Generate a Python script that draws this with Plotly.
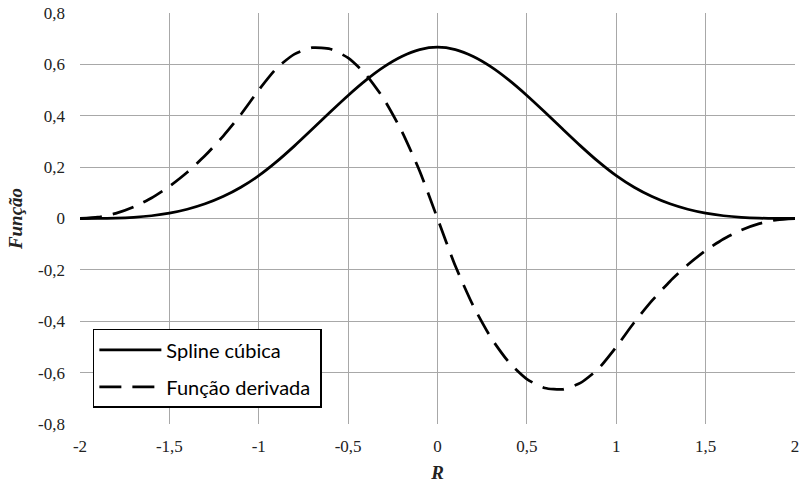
import plotly.graph_objects as go

# Abscissa R
r_values = [-2.0, -1.9, -1.8, -1.7, -1.6, -1.5, -1.4, -1.3, -1.2, -1.1,
            -1.0, -0.9, -0.8, -0.7, -0.6, -0.5, -0.4, -0.3, -0.2, -0.1,
            0.0, 0.1, 0.2, 0.3, 0.4, 0.5, 0.6, 0.7, 0.8, 0.9,
            1.0, 1.1, 1.2, 1.3, 1.4, 1.5, 1.6, 1.7, 1.8, 1.9, 2.0]

# Cubic spline kernel
spline_cubica = [0.0, 0.0002, 0.0013, 0.0045, 0.0107, 0.0208, 0.036, 0.0572, 0.0853, 0.1215,
                 0.1667, 0.2212, 0.2827, 0.3482, 0.4147, 0.4792, 0.5387, 0.5902, 0.6307, 0.6572,
                 0.6667, 0.6572, 0.6307, 0.5902, 0.5387, 0.4792, 0.4147, 0.3482, 0.2827, 0.2212,
                 0.1667, 0.1215, 0.0853, 0.0572, 0.036, 0.0208, 0.0107, 0.0045, 0.0013, 0.0002, 0.0]

# Its derivative
funcao_derivada = [0.0, 0.005, 0.02, 0.045, 0.08, 0.125, 0.18, 0.245, 0.32, 0.405,
                   0.5, 0.585, 0.64, 0.665, 0.66, 0.625, 0.56, 0.465, 0.34, 0.185,
                   0.0, -0.185, -0.34, -0.465, -0.56, -0.625, -0.66, -0.665, -0.64, -0.585,
                   -0.5, -0.405, -0.32, -0.245, -0.18, -0.125, -0.08, -0.045, -0.02, -0.005, 0.0]

x_ticks = [-2, -1.5, -1, -0.5, 0, 0.5, 1, 1.5, 2]
x_tick_text = ["-2", "-1,5", "-1", "-0,5", "0", "0,5", "1", "1,5", "2"]
y_ticks = [-0.8, -0.6, -0.4, -0.2, 0, 0.2, 0.4, 0.6, 0.8]
y_tick_text = ["-0,8", "-0,6", "-0,4", "-0,2", "0", "0,2", "0,4", "0,6", "0,8"]

serif = "Liberation Serif"
grid = "#a8a8a8"

fig = go.Figure()
fig.add_trace(go.Scatter(
    x=r_values, y=spline_cubica, mode="lines", name="Spline cúbica",
    line=dict(color="black", width=2.75, shape="spline", smoothing=0.6),
    legendgroup="a",
))
fig.add_trace(go.Scatter(
    x=r_values, y=funcao_derivada, mode="lines", name="Função derivada ",
    line=dict(color="black", width=2.75, shape="spline", smoothing=0.6, dash="22px,11px"),
    legendgroup="b",
))

fig.update_layout(
    width=800, height=486,
    margin=dict(l=80, r=5, t=13, b=62),
    paper_bgcolor="white", plot_bgcolor="white",
    showlegend=True,
    legend=dict(
        x=0.018, y=0.039, xanchor="left", yanchor="bottom",
        bgcolor="white", bordercolor="black", borderwidth=1.5,
        font=dict(family="Lato", size=20, color="black"),
        itemwidth=62, tracegroupgap=8, traceorder="grouped",
    ),
    xaxis=dict(
        range=[-2, 2], tickvals=x_ticks, ticktext=x_tick_text,
        showgrid=True, gridcolor=grid, gridwidth=1, zeroline=False,
        showline=False, ticks="", ticklabelstandoff=10, automargin=False,
        tickfont=dict(family=serif, size=17, color="#222"),
        title=dict(text="R", standoff=10,
                   font=dict(family=serif, size=19, color="#222", weight="bold", style="italic")),
    ),
    yaxis=dict(
        range=[-0.8, 0.8], tickvals=y_ticks, ticktext=y_tick_text,
        showgrid=True, gridcolor=grid, gridwidth=1, zeroline=False,
        showline=False, ticks="", ticklabelstandoff=14, automargin=False,
        tickfont=dict(family=serif, size=17, color="#222"),
        title=dict(text="Função", standoff=10,
                   font=dict(family=serif, size=19, color="#222", weight="bold", style="italic")),
    ),
)

fig.write_html("out.html")
